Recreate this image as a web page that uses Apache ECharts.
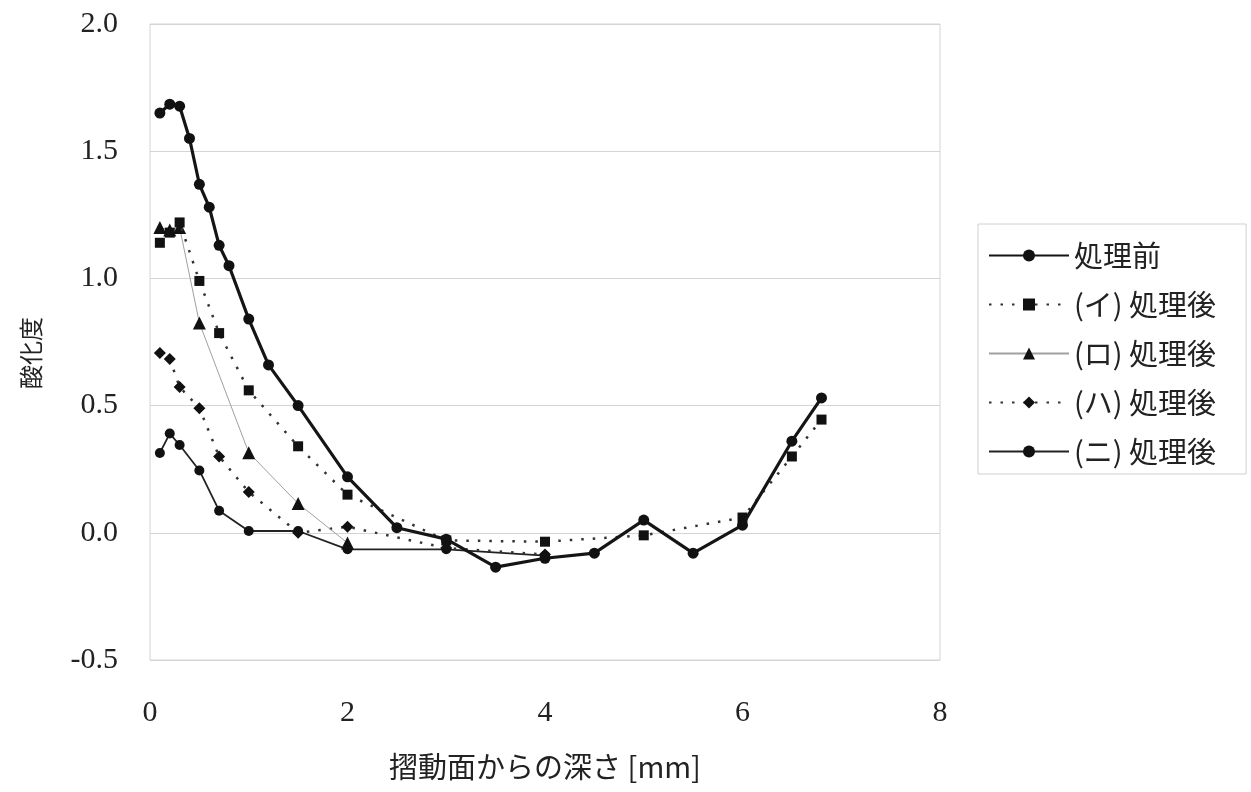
<!DOCTYPE html>
<html>
<head>
<meta charset="utf-8">
<script src="https://cdn.jsdelivr.net/npm/echarts@6/dist/echarts.min.js"></script>
<style>
  html, body { margin: 0; padding: 0; background: #fff; }
  #chart { width: 1251px; height: 792px; }
</style>
</head>
<body>
<div id="chart"></div>
<script>
// Depth from the sliding surface [mm] and oxidation degree for each condition
const depthBefore = [0.1, 0.2, 0.3, 0.4, 0.5, 0.6, 0.7, 0.8, 1.0, 1.2, 1.5, 2.0, 2.5, 3.0, 3.5, 4.0, 4.5, 5.0, 5.5, 6.0, 6.5, 6.8];
const valBefore   = [1.65, 1.685, 1.677, 1.55, 1.37, 1.28, 1.13, 1.05, 0.84, 0.66, 0.50, 0.22, 0.02, -0.025, -0.135, -0.10, -0.08, 0.05, -0.08, 0.03, 0.36, 0.53];

const depthI = [0.1, 0.2, 0.3, 0.5, 0.7, 1.0, 1.5, 2.0, 3.0, 4.0, 5.0, 6.0, 6.5, 6.8];
const valI   = [1.14, 1.18, 1.22, 0.99, 0.785, 0.56, 0.34, 0.15, -0.03, -0.035, -0.01, 0.06, 0.30, 0.445];

const depthRo = [0.1, 0.2, 0.3, 0.5, 1.0, 1.5, 2.0];
const valRo   = [1.20, 1.19, 1.20, 0.825, 0.315, 0.115, -0.04];

const depthHa = [0.1, 0.2, 0.3, 0.5, 0.7, 1.0, 1.5, 2.0, 3.0, 4.0];
const valHa   = [0.707, 0.683, 0.573, 0.49, 0.30, 0.16, 0.0, 0.024, -0.06, -0.085];

const depthNi = [0.1, 0.2, 0.3, 0.5, 0.7, 1.0, 1.5, 2.0, 3.0, 4.0];
const valNi   = [0.314, 0.39, 0.345, 0.245, 0.087, 0.007, 0.007, -0.065, -0.065, -0.09];

const xTicks = [0, 2, 4, 6, 8];
const yTicks = [-0.5, 0.0, 0.5, 1.0, 1.5, 2.0];

const seriesNames = ['処理前', '(イ) 処理後', '(ロ) 処理後', '(ハ) 処理後', '(ニ) 処理後'];

const zip = (xs, ys) => xs.map((x, i) => [x, ys[i]]);

const serif = '"Liberation Serif", "DejaVu Serif", "Noto Sans CJK JP", serif';
const jp = '"Noto Sans CJK JP", "Noto Sans", sans-serif';

const chart = echarts.init(document.getElementById('chart'), null, { renderer: 'canvas' });

chart.setOption({
  backgroundColor: '#ffffff',
  animation: false,
  grid: {
    left: 150, right: 311, top: 24, bottom: 132,
    show: true, borderColor: '#d4d4d4', borderWidth: 1, backgroundColor: 'transparent'
  },
  legend: {
    orient: 'vertical',
    left: 978, top: 224,
    padding: [17, 30, 8, 10],
    itemWidth: 80, itemHeight: 15, itemGap: 20,
    borderColor: '#d0d0d0', borderWidth: 1,
    textStyle: { fontFamily: jp, fontSize: 29, color: '#222', lineHeight: 28 },
    data: seriesNames
  },
  xAxis: {
    type: 'value', min: xTicks[0], max: xTicks[xTicks.length - 1], interval: 2,
    name: '摺動面からの深さ [mm]', nameLocation: 'middle', nameGap: 92,
    nameTextStyle: { fontFamily: jp, fontSize: 29, color: '#222' },
    axisLine: { show: false }, axisTick: { show: false },
    axisLabel: { fontFamily: serif, fontSize: 30, color: '#222', margin: 38 },
    splitLine: { show: false }
  },
  yAxis: {
    type: 'value', min: yTicks[0], max: yTicks[yTicks.length - 1], interval: 0.5,
    name: '酸化度', nameLocation: 'middle', nameGap: 107, nameRotate: 90,
    nameTextStyle: { fontFamily: jp, fontSize: 24, color: '#222', padding: [0, 0, 0, -22] },
    axisLine: { show: false }, axisTick: { show: false },
    axisLabel: { fontFamily: serif, fontSize: 30, color: '#222', margin: 32,
      formatter: v => v.toFixed(1) },
    splitLine: { show: true, lineStyle: { color: '#d4d4d4', width: 1 } }
  },
  series: [
    {
      name: seriesNames[4], type: 'line', data: zip(depthNi, valNi), z: 2,
      symbol: 'circle', symbolSize: 10,
      itemStyle: { color: '#111' },
      lineStyle: { color: '#222', width: 1.8 }
    },
    {
      name: seriesNames[3], type: 'line', data: zip(depthHa, valHa), z: 3,
      symbol: 'diamond', symbolSize: 12,
      itemStyle: { color: '#111' },
      lineStyle: { color: '#333', width: 2.5, type: [2.5, 9] }
    },
    {
      name: seriesNames[2], type: 'line', data: zip(depthRo, valRo), z: 3,
      symbol: 'triangle', symbolSize: 13,
      itemStyle: { color: '#111' },
      lineStyle: { color: '#a0a0a0', width: 1 }
    },
    {
      name: seriesNames[1], type: 'line', data: zip(depthI, valI), z: 4,
      symbol: 'rect', symbolSize: 10,
      itemStyle: { color: '#111' },
      lineStyle: { color: '#333', width: 2.5, type: [2.5, 9] }
    },
    {
      name: seriesNames[0], type: 'line', data: zip(depthBefore, valBefore), z: 5,
      symbol: 'circle', symbolSize: 11,
      itemStyle: { color: '#111' },
      lineStyle: { color: '#151515', width: 3.2 }
    }
  ]
});
</script>
</body>
</html>
